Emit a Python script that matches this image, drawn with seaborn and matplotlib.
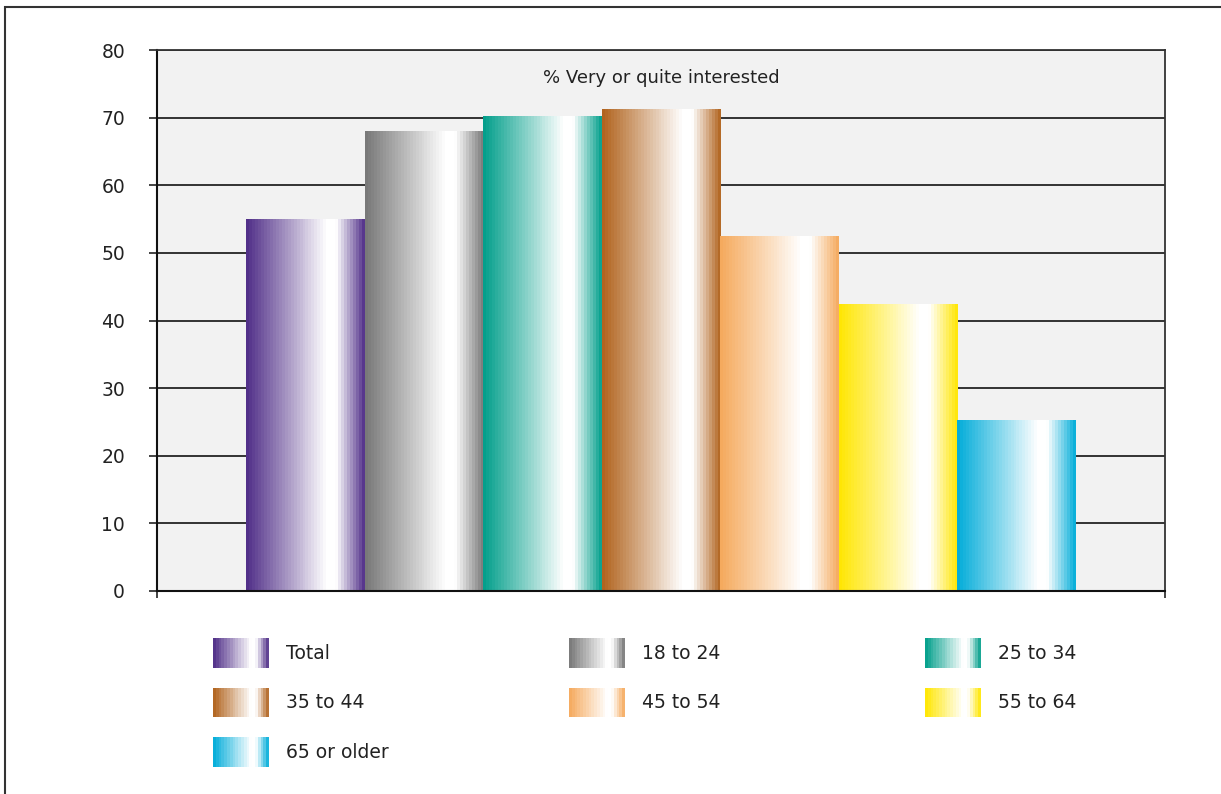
import numpy as np
import pandas as pd
import matplotlib
matplotlib.use("Agg")
from matplotlib import pyplot as plt
from matplotlib.patches import Rectangle, Patch
from matplotlib.colors import to_rgb
import seaborn as sns

groups = ["Total", "18 to 24", "25 to 34", "35 to 44", "45 to 54", "55 to 64", "65 or older"]
values = [55, 68, 70.3, 71.3, 52.5, 42.5, 25.3]
colors = ["#4f2d87", "#777777", "#009e8a", "#b0621c", "#f5a95c", "#ffe600", "#00acd9"]
yticks = [0, 10, 20, 30, 40, 50, 60, 70, 80]
title_txt = "% Very or quite interested"

sns.set_style("white")
plt.rcParams["font.family"] = ["DejaVu Sans"]
FS = 13.5
TXT = "#222222"


def grad_colors(color, n=40):
    # dark on the left, white near 70%, dark again at the right edge
    t = (np.arange(n) + 0.5) / n
    w = np.where(t < 0.68, t / 0.68, np.where(t < 0.76, 1.0, (1 - t) / 0.24))
    rgb = np.array(to_rgb(color))
    return (1 - w)[:, None] * rgb + w[:, None]


class GradHandler:
    def legend_artist(self, legend, orig_handle, fontsize, handlebox):
        x0, y0 = handlebox.xdescent, handlebox.ydescent
        w, h = handlebox.width, handlebox.height
        cols = grad_colors(orig_handle.get_facecolor(), n=20)
        n = len(cols)
        r = None
        for i, c in enumerate(cols):
            r = Rectangle((-x0 + i * w / n, -y0), w / n + 0.3, h, facecolor=c,
                          edgecolor="none", transform=handlebox.get_transform())
            handlebox.add_artist(r)
        return r


df = pd.DataFrame({"x": [""] * len(groups), "group": groups, "value": values})

fig = plt.figure(figsize=(12.21, 7.94), dpi=100)
W, H = 1221, 794
ax = fig.add_axes([157 / W, 1 - 591 / H, (1165 - 157) / W, (591 - 50) / H])
ax.set_facecolor("#f2f2f2")

sns.barplot(data=df, x="x", y="value", hue="group", hue_order=groups,
            palette=colors, width=0.823, gap=0, legend=False, ax=ax,
            saturation=1, edgecolor="none")

for patch, c in zip(ax.patches, colors):
    x, y = patch.get_x(), patch.get_y()
    w, h = patch.get_width(), patch.get_height()
    img = grad_colors(c)[None, :, :]
    im = ax.imshow(img, extent=[x, x + w, y, y + h], aspect="auto",
                   interpolation="nearest", zorder=2)
    im.set_clip_path(patch)

ax.set_xlim(-0.5, 0.5)
ax.set_ylim(0, 80)
ax.set_axisbelow(True)
ax.yaxis.grid(True, color="#000000", lw=1.1)
ax.set_yticks(yticks)
ax.set_xticks([-0.5, 0.5])
ax.set_xticklabels(["", ""])
ax.set_xlabel("")
ax.set_ylabel("")
ax.tick_params(axis="y", length=6, width=1.1, color="#111111", pad=17,
               labelsize=FS, labelcolor=TXT, left=True)
ax.tick_params(axis="x", length=5, width=1.1, color="#111111", bottom=True)
for s in ["left", "bottom"]:
    ax.spines[s].set_color("#111111")
    ax.spines[s].set_linewidth(1.5)
for s in ["top", "right"]:
    ax.spines[s].set_color("#333333")
    ax.spines[s].set_linewidth(1.3)

ax.text(0.5, 0.948, title_txt, transform=ax.transAxes, ha="center", va="center",
        fontsize=13, color=TXT)

# legend laid out row-wise in three columns
handles = {g: Patch(facecolor=c, label=g) for g, c in zip(groups, colors)}
col_items = [["Total", "35 to 44", "65 or older"],
             ["18 to 24", "45 to 54"],
             ["25 to 34", "55 to 64"]]
col_x = [213, 569, 925]
fpx = FS * 100 / 72
for items, cx in zip(col_items, col_x):
    hs = [handles[g] for g in items]
    fig.legend(handles=hs, labels=items, loc="upper left",
               bbox_to_anchor=(cx / W, 1 - 638 / H), frameon=False,
               borderpad=0, borderaxespad=0, handlelength=56 / fpx,
               handleheight=2.05, handletextpad=17 / fpx, labelspacing=20 / fpx,
               fontsize=FS, labelcolor=TXT,
               handler_map={Patch: GradHandler()})

# outer figure border (only left and top visible)
fig.add_artist(Rectangle((5 / W, -0.2), 1.2, 1 - 7 / H + 0.2, transform=fig.transFigure,
                         fill=False, edgecolor="#333333", lw=1.5))

fig.savefig("out.png", dpi=100)
